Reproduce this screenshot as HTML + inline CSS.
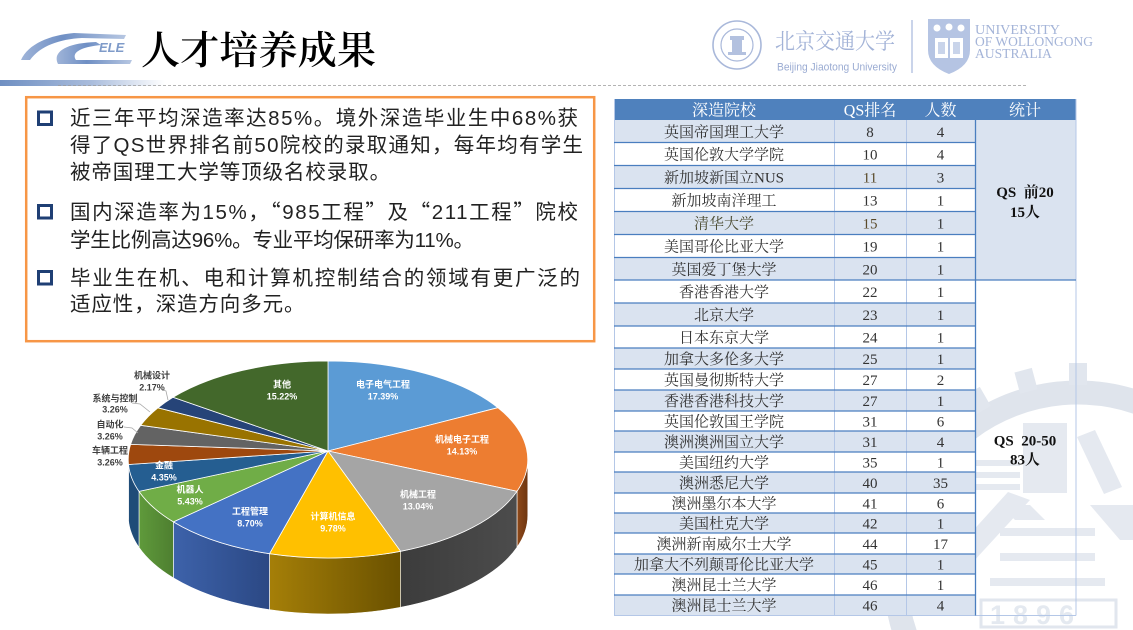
<!DOCTYPE html>
<html>
<head>
<meta charset="utf-8">
<style>
html,body{margin:0;padding:0;background:#fff;width:1133px;height:630px;overflow:hidden;}
svg{display:block;overflow:hidden;}
.sans{font-family:"Liberation Sans","Noto Sans CJK SC",sans-serif;}
.serif{font-family:"Liberation Serif","Noto Serif CJK SC",serif;}
.q{font-family:"Noto Sans CJK SC",sans-serif;}
</style>
</head>
<body>
<svg width="1133" height="630" viewBox="0 0 1133 630" xmlns="http://www.w3.org/2000/svg">
<defs>
  <linearGradient id="bar" x1="0" x2="1" y1="0" y2="0">
    <stop offset="0" stop-color="#6f8fc2"/>
    <stop offset="0.55" stop-color="#a9bcdc"/>
    <stop offset="1" stop-color="#ffffff"/>
  </linearGradient>
  <linearGradient id="logo" x1="0" x2="1" y1="0" y2="0">
    <stop offset="0" stop-color="#9fb4d8"/>
    <stop offset="0.4" stop-color="#6f8fc4"/>
    <stop offset="1" stop-color="#b7c7e2"/>
  </linearGradient>
  <linearGradient id="gO" x1="0" x2="1"><stop offset="0" stop-color="#8f4a1a"/><stop offset="1" stop-color="#6e3510"/></linearGradient>
  <linearGradient id="gG" x1="0" x2="1"><stop offset="0" stop-color="#3c3c3c"/><stop offset="1" stop-color="#4c4c4c"/></linearGradient>
  <linearGradient id="gY" x1="0" x2="1"><stop offset="0" stop-color="#a57f08"/><stop offset="1" stop-color="#6a5100"/></linearGradient>
  <linearGradient id="gB" x1="0" x2="1"><stop offset="0" stop-color="#3d62aa"/><stop offset="1" stop-color="#2b4884"/></linearGradient>
  <linearGradient id="gGr" x1="0" x2="1"><stop offset="0" stop-color="#5f9a3b"/><stop offset="1" stop-color="#4e7f30"/></linearGradient>
</defs>

<!-- ===== watermark ===== -->
<path d="M891.4,630 A194.5,194.5 0 0 1 1133,388.4 L1133,413.6 A170.5,170.5 0 0 0 916.6,630 Z" fill="#dfe4ec"/>
<g fill="#e1e6ee">
  <rect x="1069" y="363" width="18" height="22" transform="rotate(-75 1078 575)"/>
  <rect x="1069" y="363" width="18" height="22" transform="rotate(-60 1078 575)"/>
  <rect x="1069" y="363" width="18" height="22" transform="rotate(-45 1078 575)"/>
  <rect x="1069" y="363" width="18" height="22" transform="rotate(-30 1078 575)"/>
  <rect x="1069" y="363" width="18" height="22" transform="rotate(-15 1078 575)"/>
  <rect x="1069" y="363" width="18" height="22"/>
</g>
<g fill="#e5e9f0">
  <rect x="1023" y="423" width="44" height="70"/>
  <polygon points="1077,437 1095,430 1122,487 1104,494"/>
  <rect x="968" y="460" width="52" height="6"/>
  <rect x="968" y="472" width="52" height="6"/>
  <rect x="968" y="484" width="52" height="6"/>
  <polygon points="910,600 938,600 1030,500 1008,492"/>
  <polygon points="1000,505 1030,505 1045,520 1015,520"/>
  <polygon points="1090,505 1133,505 1133,540 1120,540"/>
  <rect x="1000" y="528" width="95" height="8"/>
  <rect x="1000" y="553" width="95" height="8"/>
  <rect x="990" y="578" width="115" height="8"/>
</g>
<rect x="981" y="600" width="135" height="27" fill="none" stroke="#e1e6ee" stroke-width="3"/>
<text x="990" y="624" font-family="Liberation Sans, sans-serif" font-weight="bold" font-size="27" fill="#e4e9f0" letter-spacing="8">1896</text>

<!-- ===== header ===== -->
<path d="M21,60 C28,44 50,35 74,33 L126,35 L124,39 L82,38 C60,39 40,46 30,60 Z" fill="url(#logo)"/>
<path d="M58,64 C52,52 66,43 96,42 L101,45 C80,47 71,53 76,60 L132,60 L130,64 Z" fill="url(#logo)"/>
<text x="99" y="52" font-family="Liberation Sans, sans-serif" font-style="italic" font-weight="bold" font-size="13" fill="#7f9bc9">ELE</text>
<rect x="0" y="80" width="165" height="6" fill="url(#bar)"/>
<line x1="58" y1="85.5" x2="1026" y2="85.5" stroke="#9a9a9a" stroke-width="0.8" stroke-dasharray="3,2"/>
<text x="141" y="64" font-family="Liberation Serif, 'Noto Serif CJK SC', serif" font-weight="600" font-size="39" fill="#000" textLength="235" lengthAdjust="spacing">人才培养成果</text>

<!-- BJTU logo -->
<g stroke="#a9b8da" fill="none">
  <circle cx="737" cy="45" r="24" stroke-width="1.6"/>
  <circle cx="737" cy="45" r="16" stroke-width="1.2"/>
</g>
<g fill="#b3c1df">
  <rect x="730" y="36" width="14" height="4"/>
  <rect x="732" y="40" width="10" height="12"/>
  <rect x="728" y="52" width="18" height="3"/>
</g>
<text x="775" y="49" font-family="'Noto Serif CJK SC', serif" font-size="22" fill="#a3b3d7" textLength="120" lengthAdjust="spacingAndGlyphs">北京交通大学</text>
<text x="777" y="70.5" font-family="Liberation Sans, sans-serif" font-size="11" fill="#9aabd2" textLength="120" lengthAdjust="spacingAndGlyphs">Beijing Jiaotong University</text>
<line x1="912" y1="20" x2="912" y2="73" stroke="#b8c6e2" stroke-width="1.5"/>
<!-- UOW shield -->
<path d="M928,19 L970,19 L970,50 Q970,66 949,74 Q928,66 928,50 Z" fill="#b5c4e3"/>
<rect x="935" y="38" width="28" height="20" fill="#fff"/>
<rect x="948" y="38" width="2" height="20" fill="#b5c4e3"/>
<rect x="938" y="42" width="7" height="12" fill="#c9d4ea"/>
<rect x="953" y="42" width="7" height="12" fill="#c9d4ea"/>
<circle cx="937" cy="28" r="3.5" fill="#fff"/><circle cx="949" cy="27" r="3.5" fill="#fff"/><circle cx="961" cy="28" r="3.5" fill="#fff"/>
<g font-family="Liberation Serif, serif" font-size="14" fill="#a4b4d8">
  <text x="975" y="34" textLength="85" lengthAdjust="spacingAndGlyphs">UNIVERSITY</text>
  <text x="975" y="46" textLength="118" lengthAdjust="spacingAndGlyphs">OF WOLLONGONG</text>
  <text x="975" y="58" textLength="77" lengthAdjust="spacingAndGlyphs">AUSTRALIA</text>
</g>

<!-- ===== text box ===== -->
<rect x="26.2" y="97.2" width="568" height="244" fill="none" stroke="#f79646" stroke-width="2.5"/>
<g fill="none" stroke="#1f3f74" stroke-width="3">
  <rect x="38.5" y="112" width="13" height="12.5"/>
  <rect x="38.5" y="205.5" width="13" height="12.5"/>
  <rect x="38.5" y="271.5" width="13" height="12.5"/>
</g>
<g class="sans" font-size="20.5" fill="#222">
  <text x="70" y="125" textLength="508" lengthAdjust="spacing">近三年平均深造率达85%。境外深造毕业生中68%获</text>
  <text x="70" y="152" textLength="513" lengthAdjust="spacing">得了QS世界排名前50院校的录取通知，每年均有学生</text>
  <text x="70" y="179" letter-spacing="0.9">被帝国理工大学等顶级名校录取。</text>
  <text x="70" y="219" textLength="508" lengthAdjust="spacing">国内深造率为15%，<tspan class="q">“</tspan>985工程<tspan class="q">”</tspan>及<tspan class="q">“</tspan>211工程<tspan class="q">”</tspan>院校</text>
  <text x="70" y="247" textLength="404" lengthAdjust="spacing">学生比例高达96%。专业平均保研率为11%。</text>
  <text x="70" y="285" textLength="510" lengthAdjust="spacing">毕业生在机、电和计算机控制结合的领域有更广泛的</text>
  <text x="70" y="311" letter-spacing="0.9">适应性，深造方向多元。</text>
</g>

<!-- ===== 3D pie ===== -->
<g stroke="#ffffff" stroke-width="0.6">
  <path d="M527.8,459.5 A199.8,98.5 0 0 1 517,491.3 L517,547.3 A199.8,98.5 0 0 0 527.8,515.5 Z" fill="url(#gO)"/>
  <path d="M517,491.3 A199.8,98.5 0 0 1 400.6,551.3 L400.6,607.3 A199.8,98.5 0 0 0 517,547.3 Z" fill="url(#gG)"/>
  <path d="M400.6,551.3 A199.8,98.5 0 0 1 269.5,553.7 L269.5,609.7 A199.8,98.5 0 0 0 400.6,607.3 Z" fill="url(#gY)"/>
  <path d="M269.5,553.7 A199.8,98.5 0 0 1 173.4,521.9 L173.4,577.9 A199.8,98.5 0 0 0 269.5,609.7 Z" fill="url(#gB)"/>
  <path d="M173.4,521.9 A199.8,98.5 0 0 1 139,491.4 L139,547.4 A199.8,98.5 0 0 0 173.4,577.9 Z" fill="url(#gGr)"/>
  <path d="M139,491.4 A199.8,98.5 0 0 1 128.5,464.5 L128.5,520.5 A199.8,98.5 0 0 0 139,547.4 Z" fill="#1f4c78"/>
  <path d="M128.5,464.5 A199.8,98.5 0 0 1 128.2,459.5 L128.2,515.5 A199.8,98.5 0 0 0 128.5,520.5 Z" fill="#7e3c0c"/>
</g>
<g stroke="#ffffff" stroke-width="0.8" stroke-linejoin="round">
  <path d="M328,451 L328,361 A199.8,98.5 0 0 1 497.9,407.7 Z" fill="#5b9bd5"/>
  <path d="M328,451 L497.9,407.7 A199.8,98.5 0 0 1 517,491.3 Z" fill="#ed7d31"/>
  <path d="M328,451 L517,491.3 A199.8,98.5 0 0 1 400.6,551.3 Z" fill="#a5a5a5"/>
  <path d="M328,451 L400.6,551.3 A199.8,98.5 0 0 1 269.5,553.7 Z" fill="#ffc000"/>
  <path d="M328,451 L269.5,553.7 A199.8,98.5 0 0 1 173.4,521.9 Z" fill="#4472c4"/>
  <path d="M328,451 L173.4,521.9 A199.8,98.5 0 0 1 139,491.4 Z" fill="#70ad47"/>
  <path d="M328,451 L139,491.4 A199.8,98.5 0 0 1 128.5,464.5 Z" fill="#255e91"/>
  <path d="M328,451 L128.5,464.5 A199.8,98.5 0 0 1 130.6,444.4 Z" fill="#9e480e"/>
  <path d="M328,451 L130.6,444.4 A199.8,98.5 0 0 1 140.7,425.3 Z" fill="#636363"/>
  <path d="M328,451 L140.7,425.3 A199.8,98.5 0 0 1 158,407.8 Z" fill="#997300"/>
  <path d="M328,451 L158,407.8 A199.8,98.5 0 0 1 173,397.3 Z" fill="#264478"/>
  <path d="M328,451 L173,397.3 A199.8,98.5 0 0 1 328,361 Z" fill="#43682b"/>
</g>
<g class="sans" font-size="9" font-weight="bold" fill="#ffffff" text-anchor="middle">
  <text x="383" y="387.5">电子电气工程</text><text x="383" y="399.5">17.39%</text>
  <text x="462" y="442.5">机械电子工程</text><text x="462" y="454.5">14.13%</text>
  <text x="418" y="497.5">机械工程</text><text x="418" y="509.5">13.04%</text>
  <text x="333" y="519.5">计算机信息</text><text x="333" y="531.5">9.78%</text>
  <text x="250" y="514.5">工程管理</text><text x="250" y="526.5">8.70%</text>
  <text x="190" y="492.5">机器人</text><text x="190" y="504.5">5.43%</text>
  <text x="164" y="468.5">金融</text><text x="164" y="480.5">4.35%</text>
  <text x="282" y="387.5">其他</text><text x="282" y="399.5">15.22%</text>
</g>
<g fill="none" stroke="#a6a6a6" stroke-width="0.8">
  <polyline points="161,389 166,391 168,400"/>
  <polyline points="132,403 140,404 150,412"/>
  <polyline points="124,427 132,428 138,433"/>
</g>
<g class="sans" font-size="9" font-weight="bold" fill="#404040" text-anchor="middle">
  <text x="152" y="378.5">机械设计</text><text x="152" y="390.5">2.17%</text>
  <text x="115" y="401.5">系统与控制</text><text x="115" y="412.5">3.26%</text>
  <text x="110" y="427.5">自动化</text><text x="110" y="439.5">3.26%</text>
  <text x="110" y="453.5">车辆工程</text><text x="110" y="465.5">3.26%</text>
</g>

<!-- ===== table ===== -->
<rect x="614" y="120" width="361" height="495" fill="#ffffff"/>
<rect x="614" y="99" width="462" height="21" fill="#4f81bd"/>
<g fill="#dae3f0">
  <rect x="614" y="120" width="361" height="22.5"/>
  <rect x="614" y="165.5" width="361" height="23"/>
  <rect x="614" y="211.5" width="361" height="23"/>
  <rect x="614" y="257.5" width="361" height="22.5"/>
  <rect x="614" y="303" width="361" height="23"/>
  <rect x="614" y="348" width="361" height="21"/>
  <rect x="614" y="390" width="361" height="21"/>
  <rect x="614" y="431" width="361" height="21"/>
  <rect x="614" y="472" width="361" height="21"/>
  <rect x="614" y="513" width="361" height="20"/>
  <rect x="614" y="554" width="361" height="20"/>
  <rect x="614" y="595" width="361" height="20"/>
  <rect x="975" y="120" width="101" height="160"/>
</g>
<g stroke="#b4c7e7" stroke-width="1">
  <line x1="614.5" y1="99" x2="614.5" y2="615.5"/>
  <line x1="834.5" y1="120" x2="834.5" y2="615.5"/>
  <line x1="906.5" y1="120" x2="906.5" y2="615.5"/>
  <line x1="1076" y1="99" x2="1076" y2="615.5"/>
  <line x1="614" y1="615.5" x2="1076" y2="615.5"/>
</g>
<line x1="975.5" y1="120" x2="975.5" y2="615.5" stroke="#4a7ebf" stroke-width="1.3"/>
<g stroke="#4a7ebf" stroke-width="1.2">
  <line x1="614" y1="142.5" x2="975" y2="142.5"/>
  <line x1="614" y1="165.5" x2="975" y2="165.5"/>
  <line x1="614" y1="188.5" x2="975" y2="188.5"/>
  <line x1="614" y1="211.5" x2="975" y2="211.5"/>
  <line x1="614" y1="234.5" x2="975" y2="234.5"/>
  <line x1="614" y1="257.5" x2="975" y2="257.5"/>
  <line x1="614" y1="280" x2="1076" y2="280"/>
  <line x1="614" y1="303" x2="975" y2="303"/>
  <line x1="614" y1="326" x2="975" y2="326"/>
  <line x1="614" y1="348" x2="975" y2="348"/>
  <line x1="614" y1="369" x2="975" y2="369"/>
  <line x1="614" y1="390" x2="975" y2="390"/>
  <line x1="614" y1="411" x2="975" y2="411"/>
  <line x1="614" y1="431" x2="975" y2="431"/>
  <line x1="614" y1="452" x2="975" y2="452"/>
  <line x1="614" y1="472" x2="975" y2="472"/>
  <line x1="614" y1="493" x2="975" y2="493"/>
  <line x1="614" y1="513" x2="975" y2="513"/>
  <line x1="614" y1="533" x2="975" y2="533"/>
  <line x1="614" y1="554" x2="975" y2="554"/>
  <line x1="614" y1="574" x2="975" y2="574"/>
  <line x1="614" y1="595" x2="975" y2="595"/>
</g>
<g class="serif" font-size="16" fill="#ffffff" text-anchor="middle">
  <text x="724" y="115.5">深造院校</text>
  <text x="870" y="115.5">QS排名</text>
  <text x="940.5" y="115.5">人数</text>
  <text x="1025" y="115.5">统计</text>
</g>
<g class="serif" font-size="15" fill="#333333" text-anchor="middle">
  <text x="724" y="136.8">英国帝国理工大学</text><text x="870" y="136.8">8</text><text x="940.5" y="136.8">4</text>
  <text x="724" y="159.5">英国伦敦大学学院</text><text x="870" y="159.5">10</text><text x="940.5" y="159.5">4</text>
  <text x="724" y="182.5">新加坡新国立NUS</text><text x="870" y="182.5" fill="#5a4a2a">11</text><text x="940.5" y="182.5">3</text>
  <text x="724" y="205.5">新加坡南洋理工</text><text x="870" y="205.5">13</text><text x="940.5" y="205.5">1</text>
  <text x="724" y="228.5" fill="#4a4a30">清华大学</text><text x="870" y="228.5" fill="#5a4a2a">15</text><text x="940.5" y="228.5">1</text>
  <text x="724" y="251.5">美国哥伦比亚大学</text><text x="870" y="251.5">19</text><text x="940.5" y="251.5">1</text>
  <text x="724" y="274.3">英国爱丁堡大学</text><text x="870" y="274.3">20</text><text x="940.5" y="274.3">1</text>
  <text x="724" y="297">香港香港大学</text><text x="870" y="297">22</text><text x="940.5" y="297">1</text>
  <text x="724" y="320">北京大学</text><text x="870" y="320">23</text><text x="940.5" y="320">1</text>
  <text x="724" y="342.5">日本东京大学</text><text x="870" y="342.5">24</text><text x="940.5" y="342.5">1</text>
  <text x="724" y="364">加拿大多伦多大学</text><text x="870" y="364">25</text><text x="940.5" y="364">1</text>
  <text x="724" y="385">英国曼彻斯特大学</text><text x="870" y="385">27</text><text x="940.5" y="385">2</text>
  <text x="724" y="406">香港香港科技大学</text><text x="870" y="406">27</text><text x="940.5" y="406">1</text>
  <text x="724" y="426.5">英国伦敦国王学院</text><text x="870" y="426.5">31</text><text x="940.5" y="426.5">6</text>
  <text x="724" y="447">澳洲澳洲国立大学</text><text x="870" y="447">31</text><text x="940.5" y="447">4</text>
  <text x="724" y="467.5">美国纽约大学</text><text x="870" y="467.5">35</text><text x="940.5" y="467.5">1</text>
  <text x="724" y="488">澳洲悉尼大学</text><text x="870" y="488">40</text><text x="940.5" y="488">35</text>
  <text x="724" y="508.5">澳洲墨尔本大学</text><text x="870" y="508.5">41</text><text x="940.5" y="508.5">6</text>
  <text x="724" y="528.5">美国杜克大学</text><text x="870" y="528.5">42</text><text x="940.5" y="528.5">1</text>
  <text x="724" y="549">澳洲新南威尔士大学</text><text x="870" y="549">44</text><text x="940.5" y="549">17</text>
  <text x="724" y="569.5">加拿大不列颠哥伦比亚大学</text><text x="870" y="569.5">45</text><text x="940.5" y="569.5">1</text>
  <text x="724" y="590">澳洲昆士兰大学</text><text x="870" y="590">46</text><text x="940.5" y="590">1</text>
  <text x="724" y="610.5">澳洲昆士兰大学</text><text x="870" y="610.5">46</text><text x="940.5" y="610.5">4</text>
</g>
<g class="serif" font-size="15" font-weight="bold" fill="#111" text-anchor="middle">
  <text x="1025" y="197" xml:space="preserve">QS  前20</text>
  <text x="1025" y="217">15人</text>
  <text x="1025" y="445.5" xml:space="preserve">QS  20-50</text>
  <text x="1025" y="464.5">83人</text>
</g>
</svg>
</body>
</html>
